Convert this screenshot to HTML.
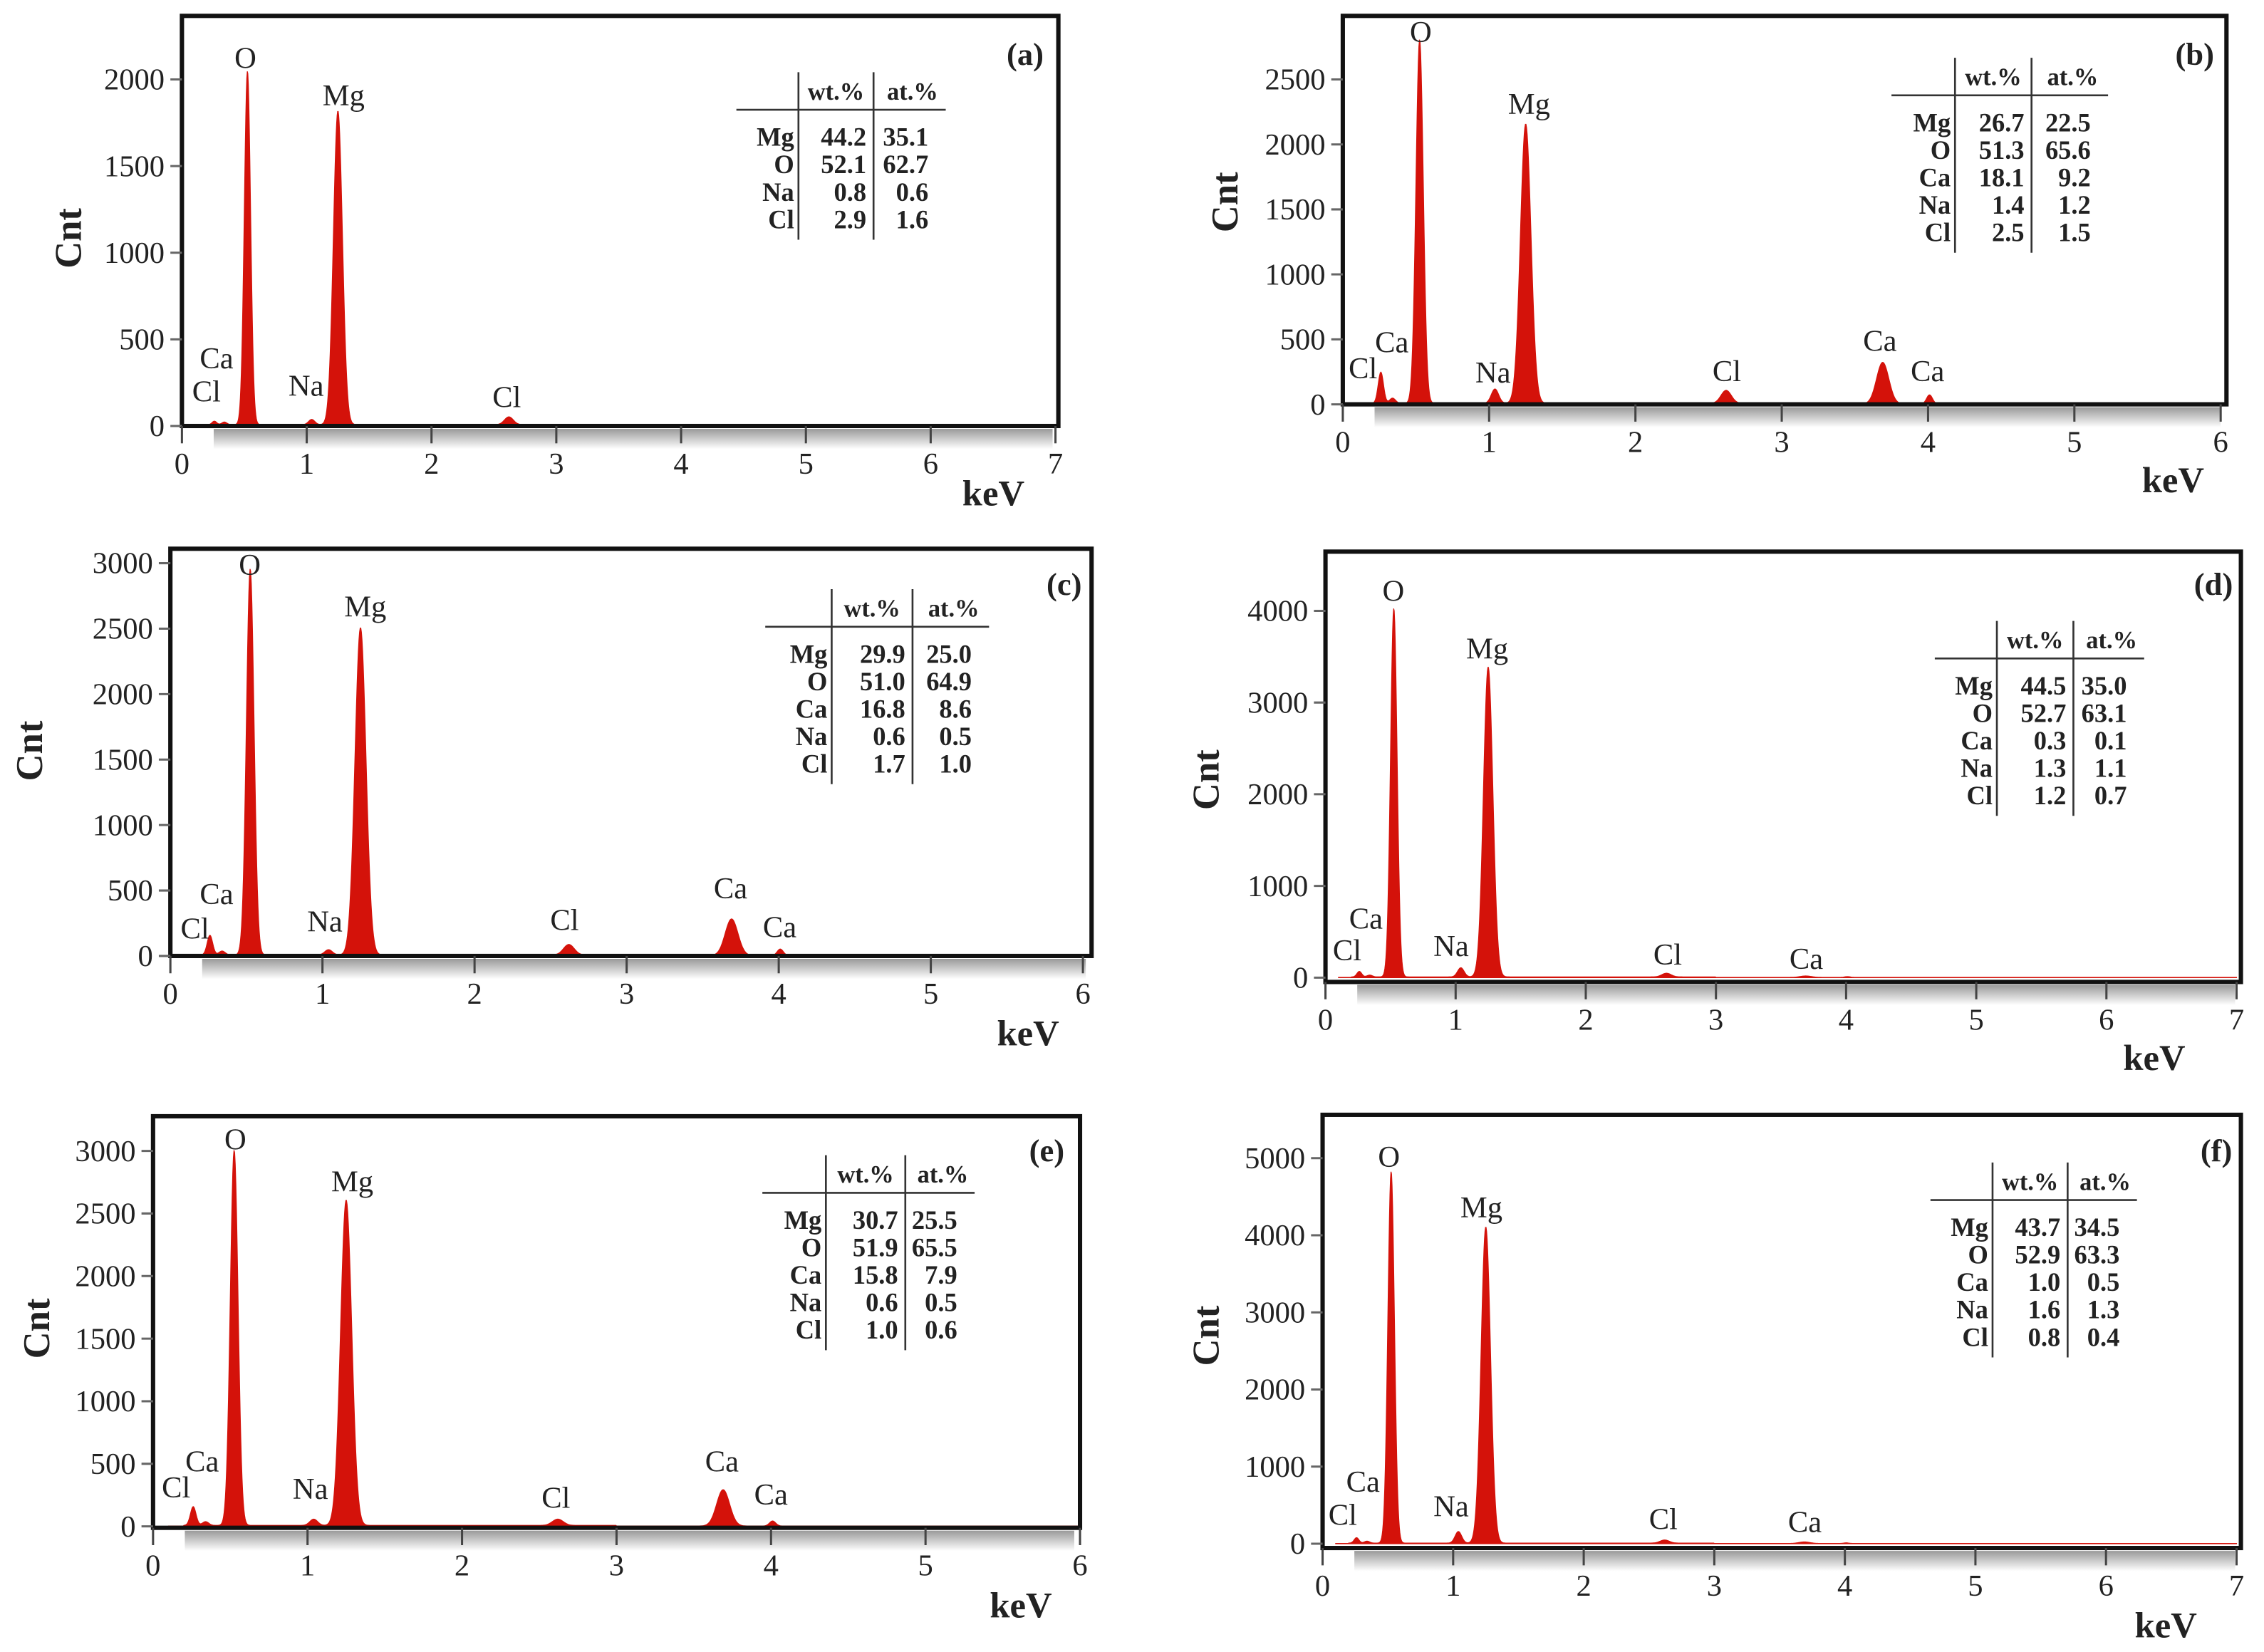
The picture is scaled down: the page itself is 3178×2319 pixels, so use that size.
<!DOCTYPE html>
<html><head><meta charset="utf-8">
<style>
html,body{margin:0;padding:0;background:#fff;}
svg{display:block;}
text{font-family:"Liberation Serif",serif;}
</style></head>
<body>
<svg id="fig" width="3178" height="2319" viewBox="0 0 1568 1144" preserveAspectRatio="none" xmlns="http://www.w3.org/2000/svg">
<defs>
<linearGradient id="shade" x1="0" y1="0" x2="0" y2="1">
<stop offset="0" stop-color="#9a9a9a"/><stop offset="1" stop-color="#ffffff"/>
</linearGradient>
</defs>
</svg>
<script>
// ---- data ----
const panelIds = ['a','b','c','d','e','f'];
const peakEnergies = [0.26, 0.34, 0.525, 1.04, 1.25, 2.62, 3.69, 4.01];
const peakHeightsA = [20, 15, 2040, 30, 1810, 45, 5, 3];
const peakHeightsB = [240, 40, 2800, 110, 2150, 100, 320, 70];
const peakHeightsC = [150, 30, 2950, 40, 2500, 80, 280, 50];
const peakHeightsD = [60, 20, 4020, 100, 3380, 40, 15, 8];
const peakHeightsE = [150, 30, 3000, 50, 2600, 50, 290, 40];
const peakHeightsF = [70, 25, 4820, 150, 4100, 40, 20, 8];
const peakWidths = [0.018, 0.02, 0.025, 0.025, 0.036, 0.035, 0.042, 0.02];
const yTicksA = [0, 500, 1000, 1500, 2000];
const yTicksB = [0, 500, 1000, 1500, 2000, 2500];
const yTicksC = [0, 500, 1000, 1500, 2000, 2500, 3000];
const yTicksD = [0, 1000, 2000, 3000, 4000];
const yTicksE = [0, 500, 1000, 1500, 2000, 2500, 3000];
const yTicksF = [0, 1000, 2000, 3000, 4000, 5000];
const elemsA = ['Mg','O','Na','Cl'];
const wtA = ['44.2','52.1','0.8','2.9'];
const atA = ['35.1','62.7','0.6','1.6'];
const elemsB = ['Mg','O','Ca','Na','Cl'];
const wtB = ['26.7','51.3','18.1','1.4','2.5'];
const atB = ['22.5','65.6','9.2','1.2','1.5'];
const wtC = ['29.9','51.0','16.8','0.6','1.7'];
const atC = ['25.0','64.9','8.6','0.5','1.0'];
const wtD = ['44.5','52.7','0.3','1.3','1.2'];
const atD = ['35.0','63.1','0.1','1.1','0.7'];
const wtE = ['30.7','51.9','15.8','0.6','1.0'];
const atE = ['25.5','65.5','7.9','0.5','0.6'];
const wtF = ['43.7','52.9','1.0','1.6','0.8'];
const atF = ['34.5','63.3','0.5','1.3','0.4'];

// ---- layout (display coords) ----
const layout = [
 {L:126,T:11,R:733,B:295,x0:126,x1:731,xmax:7,y0:295,yref:55,yrefv:2000,h:peakHeightsA,yt:yTicksA,el:elemsA,wt:wtA,at:atA,tx:510,ty:50,tw:145,v1:43,v2:95,lab:[710,38],cnt:[47,165],kev:[688,342],
  pl:[['O',170,40],['Mg',238,66],['Ca',150,248],['Cl',143,271],['Na',212,267],['Cl',351,275]]},
 {L:930,T:11,R:1542,B:280,x0:930,x1:1538,xmax:6,y0:280,yref:55,yrefv:2500,h:peakHeightsB,yt:yTicksB,el:elemsB,wt:wtB,at:atB,tx:1310,ty:40,tw:150,v1:44,v2:97,lab:[1520,38],cnt:[848,140],kev:[1505,333],
  pl:[['O',984,22],['Mg',1059,72],['Cl',944,255],['Ca',964,237],['Na',1034,258],['Cl',1196,257],['Ca',1302,236],['Ca',1335,257]]},
 {L:118,T:380,R:756,B:662,x0:118,x1:750,xmax:6,y0:662,yref:390,yrefv:3000,h:peakHeightsC,yt:yTicksC,el:elemsB,wt:wtC,at:atC,tx:530,ty:408,tw:155,v1:46,v2:102,lab:[737,405],cnt:[20,520],kev:[712,716],
  pl:[['O',173,391],['Mg',253,420],['Ca',150,619],['Cl',135,643],['Na',225,638],['Cl',391,637],['Ca',506,615],['Ca',540,642]]},
 {L:918,T:382,R:1552,B:680,x0:918,x1:1549,xmax:7,y0:677,yref:423,yrefv:4000,h:peakHeightsD,yt:yTicksD,el:elemsB,wt:wtD,at:atD,tx:1340,ty:430,tw:145,v1:43,v2:96,lab:[1533,405],cnt:[835,540],kev:[1492,733],
  pl:[['O',965,409],['Mg',1030,449],['Ca',946,636],['Cl',933,658],['Na',1005,655],['Cl',1155,661],['Ca',1251,664]]},
 {L:106,T:773,R:748,B:1058,x0:106,x1:748,xmax:6,y0:1057,yref:797,yrefv:3000,h:peakHeightsE,yt:yTicksE,el:elemsB,wt:wtE,at:atE,tx:528,ty:800,tw:147,v1:44,v2:99,lab:[725,797],cnt:[25,920],kev:[707,1112],
  pl:[['O',163,789],['Mg',244,818],['Ca',140,1012],['Cl',122,1030],['Na',215,1031],['Cl',385,1037],['Ca',500,1012],['Ca',534,1035]]},
 {L:916,T:772,R:1552,B:1072,x0:916,x1:1549,xmax:7,y0:1069,yref:802,yrefv:5000,h:peakHeightsF,yt:yTicksF,el:elemsB,wt:wtF,at:atF,tx:1337,ty:805,tw:143,v1:43,v2:95,lab:[1535,797],cnt:[835,925],kev:[1500,1126],
  pl:[['O',962,801],['Mg',1026,836],['Ca',944,1026],['Cl',930,1049],['Na',1005,1043],['Cl',1152,1052],['Ca',1250,1054]]}
];

const NS='http://www.w3.org/2000/svg';
const svg=document.getElementById('fig');
function mk(tag,attrs,parent,txt){const e=document.createElementNS(NS,tag);for(const k in attrs)e.setAttribute(k,attrs[k]);if(txt!==undefined)e.textContent=txt;parent.appendChild(e);return e;}

layout.forEach((p,i)=>{
  const g=mk('g',{},svg);
  
  
  const xs=v=>p.x0+(p.x1-p.x0)*v/p.xmax;
  const ys=v=>p.y0-(p.y0-p.yref)*v/p.yrefv;
  const sh=mk('rect',{x:p.L+22,y:p.B+2,width:p.R-p.L-26,height:14,fill:'url(#shade)'},g);
  
  
  let d='M'+xs(0.1)+','+p.y0;
  for(let e=0.1;e<=p.xmax;e+=0.004){
    let c=(e>0.2&&e<3)?8:3;
    for(let k=0;k<peakEnergies.length;k++){const z=(e-peakEnergies[k])/peakWidths[k];c+=p.h[k]*Math.exp(-0.5*z*z);}
    let y=Math.max(ys(c),p.T+2);
    d+=' L'+xs(e).toFixed(2)+','+y.toFixed(2);
  }
  d+=' L'+xs(p.xmax)+','+p.y0+' Z';
  const sp=mk('path',{d:d,fill:'#d4120a',stroke:'#d4120a','stroke-width':0.6},g);
  
  
  const fr=mk('rect',{x:p.L,y:p.T,width:p.R-p.L,height:p.B-p.T,fill:'none',stroke:'#111','stroke-width':3},g);
  
  
  p.yt.forEach(v=>{
    const y=ys(v);
    const t=mk('line',{x1:p.L-8,x2:p.L,y1:y,y2:y,stroke:'#666','stroke-width':1.5},g);
    
    
    const l=mk('text',{x:p.L-12,y:y+7,'text-anchor':'end','font-size':21,fill:'#222'},g,String(v));
    
    
  });
  for(let v=0;v<=p.xmax;v++){
    const x=xs(v);
    const t=mk('line',{x1:x,x2:x,y1:p.B,y2:p.B+12,stroke:'#444','stroke-width':1.5},g);
    
    
    const l=mk('text',{x:x,y:p.B+33,'text-anchor':'middle','font-size':21,fill:'#222'},g,String(v));
    
    
  }
  const ct=mk('text',{x:p.cnt[0],y:p.cnt[1],'text-anchor':'middle','font-size':26,'font-weight':'bold',fill:'#222',transform:'rotate(-90 '+p.cnt[0]+' '+p.cnt[1]+')',dy:9},g,'Cnt');
  
  
  const kt=mk('text',{x:p.kev[0],y:p.kev[1]+8,'text-anchor':'middle','font-size':25,'font-weight':'bold',fill:'#222'},g,'keV');
  
  
  const pl=mk('text',{x:p.lab[0],y:p.lab[1]+7,'text-anchor':'middle','font-size':22,'font-weight':'bold',fill:'#222'},g,'('+panelIds[i]+')');
  
  
  p.pl.forEach(q=>{
    const t=mk('text',{x:q[1],y:q[2]+7,'text-anchor':'middle','font-size':21,fill:'#222'},g,q[0]);
    
    
  });
  const tg=mk('g',{},g);
  
  
  const rows=p.el.length, rh=19, bot=p.ty+40+rows*rh;
  mk('line',{x1:p.tx,x2:p.tx+p.tw,y1:p.ty+26,y2:p.ty+26,stroke:'#333','stroke-width':1.3},tg);
  mk('line',{x1:p.tx+p.v1,x2:p.tx+p.v1,y1:p.ty,y2:bot,stroke:'#333','stroke-width':1.3},tg);
  mk('line',{x1:p.tx+p.v2,x2:p.tx+p.v2,y1:p.ty,y2:bot,stroke:'#333','stroke-width':1.3},tg);
  const c1=(p.v1+p.v2)/2, c2=(p.v2+p.tw)/2+2;
  mk('text',{x:p.tx+c1,y:p.ty+19,'text-anchor':'middle','font-size':17,'font-weight':'bold',fill:'#222'},tg,'wt.%');
  mk('text',{x:p.tx+c2,y:p.ty+19,'text-anchor':'middle','font-size':17,'font-weight':'bold',fill:'#222'},tg,'at.%');
  for(let r=0;r<rows;r++){
    const y=p.ty+51+r*rh;
    mk('text',{x:p.tx+p.v1-3,y:y,'text-anchor':'end','font-size':18,'font-weight':'bold',fill:'#222'},tg,p.el[r]);
    mk('text',{x:p.tx+p.v2-5,y:y,'text-anchor':'end','font-size':18,'font-weight':'bold',fill:'#222'},tg,p.wt[r]);
    mk('text',{x:p.tx+p.tw-12,y:y,'text-anchor':'end','font-size':18,'font-weight':'bold',fill:'#222'},tg,p.at[r]);
  }
});
</script>
</body></html>
